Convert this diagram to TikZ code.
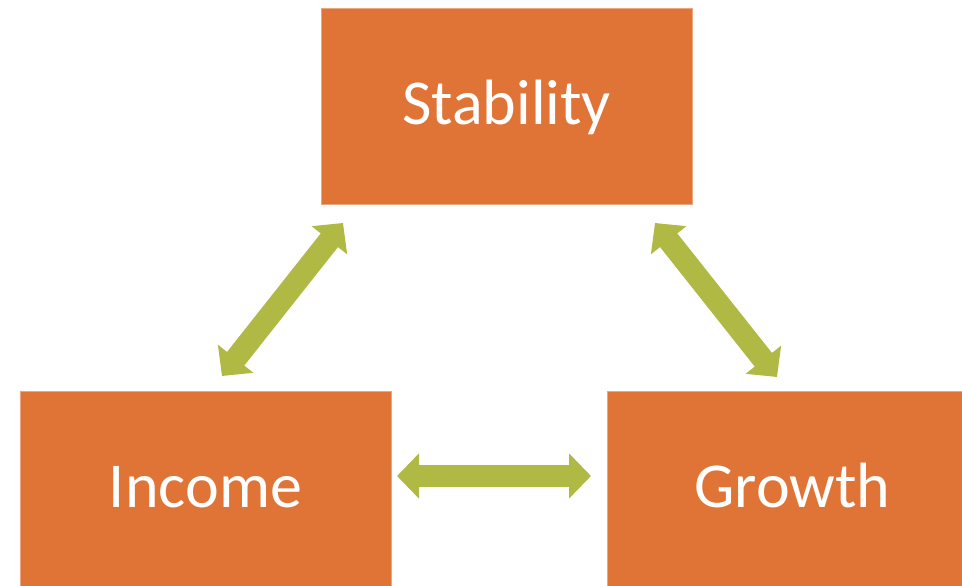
\documentclass[tikz,border=0pt]{standalone}
\usepackage{fontspec}
\setmainfont{Carlito}
\usetikzlibrary{arrows.meta}
\definecolor{boxorange}{HTML}{E07436}
\definecolor{boxedge}{HTML}{EDA57C}
\definecolor{arrgreen}{HTML}{AFB943}
\tikzset{
  box/.style={rectangle, fill=boxorange, draw=boxedge, line width=0.6pt,
    minimum width=371pt, text width=371pt, align=center, inner sep=0pt,
    text height=117pt, text depth=79pt, text=white,
    font=\fontsize{64}{70}\selectfont},
  dbl/.style={draw=arrgreen, line width=22pt,
    {Triangle[length=22pt,width=44pt,fill=arrgreen]}-{Triangle[length=22pt,width=44pt,fill=arrgreen]}}
}
\begin{document}
\begin{tikzpicture}[x=1pt,y=1pt]
\useasboundingbox (0,0) rectangle (962,586);
\begin{scope}
\clip (0,0) rectangle (962,586);
\node[box] (sta) at (506.5,480) {Stability};
\node[box] (inc) at (205.5,97) {Income};
\node[box] (gro) at (792.5,97) {Growth};
\end{scope}
\coordinate (a1) at (222,210);
\coordinate (a2) at (343,363);
\coordinate (b1) at (655,363);
\coordinate (b2) at (777,209);
\coordinate (c1) at (397,110);
\coordinate (c2) at (591,110);
\draw[dbl] (a1) -- (a2);
\draw[dbl] (b1) -- (b2);
\draw[dbl] (c1) -- (c2);
\end{tikzpicture}
\end{document}
